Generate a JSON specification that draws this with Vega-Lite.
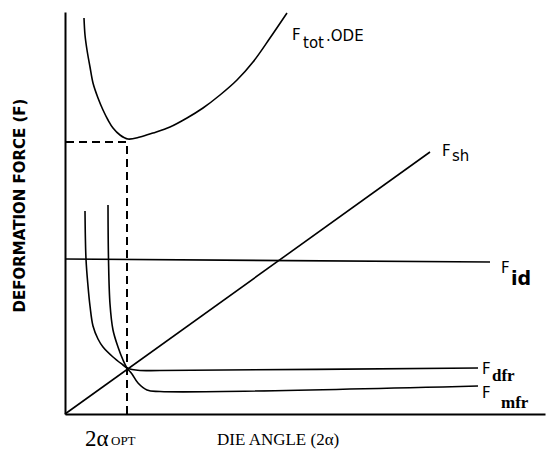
{
  "$schema": "https://vega.github.io/schema/vega-lite/v6.json",
  "width": 480,
  "height": 402,
  "autosize": {"type": "none"},
  "padding": {"left": 65, "top": 12, "right": 5, "bottom": 43},
  "background": "white",
  "config": {"view": {"stroke": null}},
  "datasets": {
    "curves": [
      {"curve": "Ftot", "i": 0, "x": 19, "y": 396},
      {"curve": "Ftot", "i": 1, "x": 20, "y": 379},
      {"curve": "Ftot", "i": 2, "x": 22, "y": 364},
      {"curve": "Ftot", "i": 3, "x": 25, "y": 347},
      {"curve": "Ftot", "i": 4, "x": 28, "y": 331},
      {"curve": "Ftot", "i": 5, "x": 33, "y": 316},
      {"curve": "Ftot", "i": 6, "x": 38, "y": 304},
      {"curve": "Ftot", "i": 7, "x": 43, "y": 294},
      {"curve": "Ftot", "i": 8, "x": 48, "y": 286},
      {"curve": "Ftot", "i": 9, "x": 55, "y": 279},
      {"curve": "Ftot", "i": 10, "x": 63, "y": 275},
      {"curve": "Ftot", "i": 11, "x": 75, "y": 277},
      {"curve": "Ftot", "i": 12, "x": 88, "y": 281},
      {"curve": "Ftot", "i": 13, "x": 105, "y": 287},
      {"curve": "Ftot", "i": 14, "x": 122, "y": 296},
      {"curve": "Ftot", "i": 15, "x": 138, "y": 306},
      {"curve": "Ftot", "i": 16, "x": 155, "y": 319},
      {"curve": "Ftot", "i": 17, "x": 172, "y": 334},
      {"curve": "Ftot", "i": 18, "x": 188, "y": 352},
      {"curve": "Ftot", "i": 19, "x": 205, "y": 376},
      {"curve": "Ftot", "i": 20, "x": 222, "y": 401},
      {"curve": "Fsh", "i": 0, "x": 0, "y": 0},
      {"curve": "Fsh", "i": 1, "x": 365, "y": 262},
      {"curve": "Fid", "i": 0, "x": 0, "y": 155},
      {"curve": "Fid", "i": 1, "x": 425, "y": 152},
      {"curve": "Fdfr", "i": 0, "x": 20, "y": 203},
      {"curve": "Fdfr", "i": 1, "x": 21, "y": 155},
      {"curve": "Fdfr", "i": 2, "x": 23, "y": 128},
      {"curve": "Fdfr", "i": 3, "x": 25, "y": 108},
      {"curve": "Fdfr", "i": 4, "x": 28, "y": 88},
      {"curve": "Fdfr", "i": 5, "x": 33, "y": 75},
      {"curve": "Fdfr", "i": 6, "x": 38, "y": 67},
      {"curve": "Fdfr", "i": 7, "x": 48, "y": 57},
      {"curve": "Fdfr", "i": 8, "x": 58, "y": 49},
      {"curve": "Fdfr", "i": 9, "x": 62, "y": 46},
      {"curve": "Fdfr", "i": 10, "x": 67, "y": 44.5},
      {"curve": "Fdfr", "i": 11, "x": 75, "y": 43.5},
      {"curve": "Fdfr", "i": 12, "x": 95, "y": 43.5},
      {"curve": "Fdfr", "i": 13, "x": 413, "y": 46},
      {"curve": "Fmfr", "i": 0, "x": 43, "y": 209},
      {"curve": "Fmfr", "i": 1, "x": 43.5, "y": 155},
      {"curve": "Fmfr", "i": 2, "x": 45, "y": 110},
      {"curve": "Fmfr", "i": 3, "x": 48, "y": 84},
      {"curve": "Fmfr", "i": 4, "x": 53, "y": 67},
      {"curve": "Fmfr", "i": 5, "x": 58, "y": 54},
      {"curve": "Fmfr", "i": 6, "x": 62, "y": 46},
      {"curve": "Fmfr", "i": 7, "x": 67, "y": 40},
      {"curve": "Fmfr", "i": 8, "x": 73, "y": 31},
      {"curve": "Fmfr", "i": 9, "x": 82, "y": 24},
      {"curve": "Fmfr", "i": 10, "x": 95, "y": 22.5},
      {"curve": "Fmfr", "i": 11, "x": 413, "y": 28}
    ],
    "dashed": [
      {"i": 0, "x": 1, "y": 272},
      {"i": 1, "x": 62, "y": 272},
      {"i": 2, "x": 62, "y": 0}
    ],
    "labels": [
      {"kind": "F", "text": "F", "x": 227, "y": 379},
      {"kind": "sub", "text": "tot", "x": 238, "y": 371},
      {"kind": "F", "text": ".ODE", "x": 261, "y": 378},
      {"kind": "F", "text": "F", "x": 377, "y": 263},
      {"kind": "sub", "text": "sh", "x": 387, "y": 258},
      {"kind": "F", "text": "F", "x": 436, "y": 146},
      {"kind": "id", "text": "id", "x": 446, "y": 135},
      {"kind": "F", "text": "F", "x": 417, "y": 45},
      {"kind": "serifsub", "text": "dfr", "x": 427, "y": 38},
      {"kind": "F", "text": "F", "x": 417, "y": 21},
      {"kind": "serifsub", "text": "mfr", "x": 436, "y": 11},
      {"kind": "alpha", "text": "2α", "x": 20, "y": -25},
      {"kind": "opt", "text": "OPT", "x": 46, "y": -27},
      {"kind": "axis", "text": "DIE ANGLE (2α)", "x": 152, "y": -26}
    ]
  },
  "layer": [
    {
      "data": {"name": "curves"},
      "mark": {"type": "line", "color": "black", "strokeWidth": 1.6, "interpolate": "catmull-rom"},
      "encoding": {
        "x": {"field": "x", "type": "quantitative", "scale": {"domain": [0, 480], "nice": false, "zero": false},
          "axis": {"domain": true, "domainColor": "black", "domainWidth": 2, "ticks": false, "labels": false, "grid": false, "title": null}},
        "y": {"field": "y", "type": "quantitative", "scale": {"domain": [0, 402], "nice": false, "zero": false},
          "axis": {"domain": true, "domainColor": "black", "domainWidth": 2, "ticks": false, "labels": false, "grid": false,
            "title": "DEFORMATION FORCE (F)", "titleFont": "DejaVu Sans", "titleFontSize": 15, "titleFontWeight": "bold", "titleColor": "black", "titlePadding": 38, "titleY": 193}},
        "detail": {"field": "curve", "type": "nominal"},
        "order": {"field": "i", "type": "quantitative"}
      }
    },
    {
      "data": {"name": "dashed"},
      "mark": {"type": "line", "color": "black", "strokeWidth": 2, "strokeDash": [8, 5]},
      "encoding": {
        "x": {"field": "x", "type": "quantitative"},
        "y": {"field": "y", "type": "quantitative"},
        "order": {"field": "i", "type": "quantitative"}
      }
    },
    {
      "data": {"name": "labels"},
      "transform": [{"filter": "datum.kind == 'F'"}],
      "mark": {"type": "text", "align": "left", "baseline": "middle", "font": "DejaVu Sans", "fontSize": 15, "color": "black"},
      "encoding": {"x": {"field": "x", "type": "quantitative"}, "y": {"field": "y", "type": "quantitative"}, "text": {"field": "text"}}
    },
    {
      "data": {"name": "labels"},
      "transform": [{"filter": "datum.kind == 'sub'"}],
      "mark": {"type": "text", "align": "left", "baseline": "middle", "font": "DejaVu Sans", "fontSize": 15, "color": "black"},
      "encoding": {"x": {"field": "x", "type": "quantitative"}, "y": {"field": "y", "type": "quantitative"}, "text": {"field": "text"}}
    },
    {
      "data": {"name": "labels"},
      "transform": [{"filter": "datum.kind == 'id'"}],
      "mark": {"type": "text", "align": "left", "baseline": "middle", "font": "DejaVu Sans", "fontSize": 19, "fontWeight": "bold", "color": "black"},
      "encoding": {"x": {"field": "x", "type": "quantitative"}, "y": {"field": "y", "type": "quantitative"}, "text": {"field": "text"}}
    },
    {
      "data": {"name": "labels"},
      "transform": [{"filter": "datum.kind == 'serifsub'"}],
      "mark": {"type": "text", "align": "left", "baseline": "middle", "font": "Liberation Serif", "fontSize": 17, "fontWeight": "bold", "color": "black"},
      "encoding": {"x": {"field": "x", "type": "quantitative"}, "y": {"field": "y", "type": "quantitative"}, "text": {"field": "text"}}
    },
    {
      "data": {"name": "labels"},
      "transform": [{"filter": "datum.kind == 'alpha'"}],
      "mark": {"type": "text", "align": "left", "baseline": "middle", "font": "Liberation Serif", "fontSize": 23, "color": "black"},
      "encoding": {"x": {"field": "x", "type": "quantitative"}, "y": {"field": "y", "type": "quantitative"}, "text": {"field": "text"}}
    },
    {
      "data": {"name": "labels"},
      "transform": [{"filter": "datum.kind == 'opt'"}],
      "mark": {"type": "text", "align": "left", "baseline": "middle", "font": "Liberation Serif", "fontSize": 13, "color": "black"},
      "encoding": {"x": {"field": "x", "type": "quantitative"}, "y": {"field": "y", "type": "quantitative"}, "text": {"field": "text"}}
    },
    {
      "data": {"name": "labels"},
      "transform": [{"filter": "datum.kind == 'axis'"}],
      "mark": {"type": "text", "align": "left", "baseline": "middle", "font": "Liberation Serif", "fontSize": 17, "color": "black"},
      "encoding": {"x": {"field": "x", "type": "quantitative"}, "y": {"field": "y", "type": "quantitative"}, "text": {"field": "text"}}
    }
  ]
}
